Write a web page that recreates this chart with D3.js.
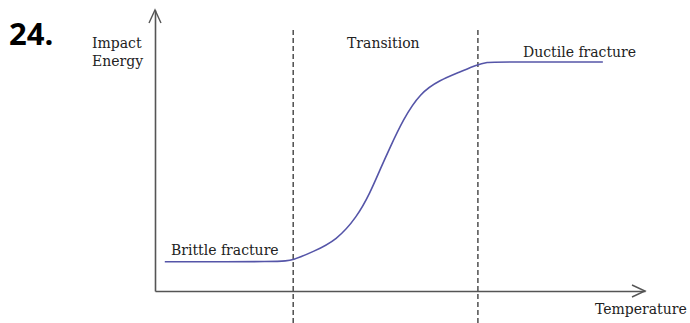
<!DOCTYPE html>
<html>
<head>
<meta charset="utf-8">
<script src="https://cdn.jsdelivr.net/npm/d3@7"></script>
<style>
  body { margin: 0; background: #fff; }
  svg text { font-family: "DejaVu Serif", "Liberation Serif", serif; fill: #222; }
</style>
</head>
<body>
<div id="container"></div>
<script>
let w = 690;
let h = 323;

// curve (arbitrary units 0..100)
let temperature = [2, 26, 28, 32.2, 37.1, 41.2, 43.9, 45.9, 48, 50.6, 54.1, 58.2, 62.2, 65.5, 67.8, 70, 91.4];
let energy      = [10.4, 10.4, 10.9, 13.9, 18.1, 26.3, 34.9, 43.1, 51.2, 60.9, 70.5, 75.1, 77.9, 80.4, 81.5, 81.5, 81.5];
let boundaries = [28.2, 65.9];
let regionLabels = ["Brittle fracture", "Transition", "Ductile fracture"];

let viz = d3.select("#container").append("svg")
    .attr("width", w)
    .attr("height", h)
;

let x = d3.scaleLinear().domain([0, 100]).range([155, 645]);
let y = d3.scaleLinear().domain([0, 100]).range([291, 10]);

// "24." question number
viz.append("text")
    .text("24.")
    .attr("x", 9)
    .attr("y", 45)
    .attr("font-size", 31)
    .attr("font-weight", "bold")
    .style("font-family", "'Open Sans', 'DejaVu Sans', sans-serif")
    .style("fill", "#000")
;

// dashed region boundaries
viz.selectAll(".bound").data(boundaries).enter()
    .append("line")
    .attr("class", "bound")
    .attr("x1", d => x(d))
    .attr("x2", d => x(d))
    .attr("y1", 30)
    .attr("y2", h)
    .attr("stroke", "#333")
    .attr("stroke-width", 1.3)
    .attr("stroke-dasharray", "5,3")
;

// axes without ticks
viz.append("g")
    .attr("transform", "translate(0," + y(0) + ")")
    .call(d3.axisBottom(x).tickValues([]).tickSizeOuter(0))
    .select(".domain").attr("stroke", "#555").attr("stroke-width", 1.6);
viz.append("g")
    .attr("transform", "translate(" + x(0) + ",0)")
    .call(d3.axisLeft(y).tickValues([]).tickSizeOuter(0))
    .select(".domain").attr("stroke", "#555").attr("stroke-width", 1.6);

// open arrow heads
viz.append("path")
    .attr("d", "M" + (x(0) - 6) + "," + (y(100) + 13) + "L" + x(0) + "," + y(100) + "L" + (x(0) + 6) + "," + (y(100) + 13))
    .attr("fill", "none").attr("stroke", "#555").attr("stroke-width", 1.4);
viz.append("path")
    .attr("d", "M" + (x(100) - 13) + "," + (y(0) - 6) + "L" + x(100) + "," + y(0) + "L" + (x(100) - 13) + "," + (y(0) + 6))
    .attr("fill", "none").attr("stroke", "#555").attr("stroke-width", 1.4);

// the curve
let pts = temperature.map((t, i) => [t, energy[i]]);
let line = d3.line()
    .x(d => x(d[0]))
    .y(d => y(d[1]))
    .curve(d3.curveBasis);
viz.append("path")
    .datum(pts)
    .attr("d", line)
    .attr("fill", "none")
    .attr("stroke", "#5555a8")
    .attr("stroke-width", 1.6)
;

// labels
let labels = viz.append("g").attr("font-size", 14);
labels.append("text").text("Impact").attr("x", 92).attr("y", 48);
labels.append("text").text("Energy").attr("x", 92).attr("y", 66);
labels.append("text").text(regionLabels[0]).attr("x", 171).attr("y", 255);
labels.append("text").text(regionLabels[1]).attr("x", 347).attr("y", 48);
labels.append("text").text(regionLabels[2]).attr("x", 523).attr("y", 57);
labels.append("text").text("Temperature").attr("x", 595).attr("y", 314);
</script>
</body>
</html>
